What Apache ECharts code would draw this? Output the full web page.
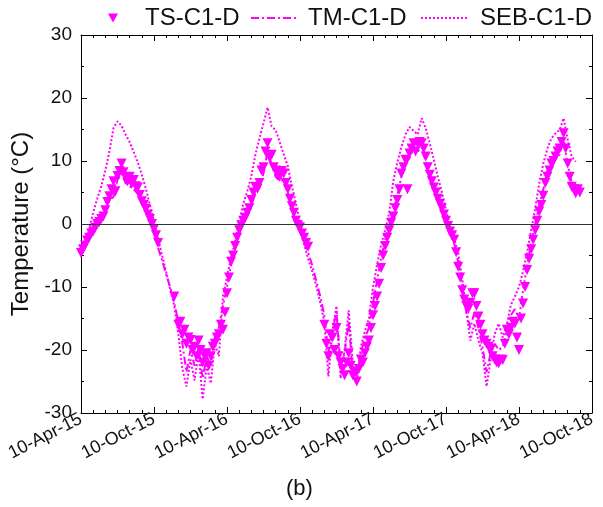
<!DOCTYPE html>
<html>
<head>
<meta charset="utf-8">
<script src="https://cdn.jsdelivr.net/npm/echarts@6/dist/echarts.min.js"></script>
<style>
  html, body { margin: 0; padding: 0; background: #fff; }
  #chart { width: 603px; height: 507px; }
</style>
</head>
<body>
<div id="chart"></div>
<script>
// Tick labels of the time axis, one every six months from 10-Apr-15
const dateLabels = ['10-Apr-15', '10-Oct-15', '10-Apr-16', '10-Oct-16',
                    '10-Apr-17', '10-Oct-17', '10-Apr-18', '10-Oct-18'];
const monthsPerLabel = 6;
// TS readings are listed every sixth of a month (about 5 days),
// TM and SEB every third of a month (about 10 days), all from 10-Apr-15
const tsStep = 1 / 6;
const lineStep = 1 / 3;
const yTicks = [-30, -20, -10, 0, 10, 20, 30];

// TS-C1-D (°C); null where no reading was logged
const tsC1D = [
  -4.6, -4.0, -3.4, -2.6, -2.2, -1.5, -1.2, -0.6, 0.0, 0.3,
  0.8, 1.2, 2.2, 3.5, 4.4, 5.5, 6.8, 5.2, 7.6, 8.4,
  9.6, 8.2, 7.4, 6.8, 7.5, 6.4, 7.0, 6.0, 5.8, 4.6,
  3.6, 3.0, 2.4, 1.5, 0.8, 0.0, -0.8, -1.8, -3.0, null,
  null, null, null, null, null, null, -11.5, null, -16.0, -15.5,
  -17.5, -16.8, -19.0, -18.0, -18.4, -20.0, -19.5, -21.0, -18.5, -20.0,
  -22.0, -21.0, -20.5, -22.5, -21.0, -19.5, -19.0, -18.0, -17.5, -16.0,
  -16.8, -14.0, -11.0, -8.5, -6.0, -5.0, -3.5, -2.2, -1.0, -0.2,
  0.5, 1.0, 1.8, 2.5, 3.8, 5.0, 5.9, 5.6, 6.5, 8.5,
  9.0, 11.5, 12.8, 10.5, 11.0, 9.0, 8.5, 8.0, 7.5, 8.4,
  8.0, 6.5, 5.5, 4.0, 2.8, 1.8, 0.5, -0.2, -0.5, -1.5,
  -2.2, -3.0, -3.6, null, null, null, null, null, null, null,
  -16.0, -19.0, -21.0, -17.5, -18.0, -20.0, -16.5, -21.0, -22.0, -23.0,
  -24.0, -22.0, -20.5, -22.5, -24.0, -23.5, -25.0, -23.0, -21.5, -22.0,
  -20.5, -19.5, -18.5, -16.5, -14.5, -13.0, -11.5, -9.5, -7.0, -5.0,
  -3.5, -2.2, -1.0, 0.2, 1.2, 2.5, 3.8, 5.5, 8.0, 9.0,
  10.2, 5.5, 11.2, 12.0, 12.8, 11.5, 12.8, 13.0, 12.8, 12.0,
  10.7, 9.0, 7.8, 6.8, 5.8, 5.0, 4.0, 3.2, 2.5, 1.5,
  0.5, -0.3, -1.2, -1.8, -2.5, -4.5, -6.8, -8.5, -10.5, -12.0,
  -13.0, -13.5, -12.5, -11.0, -11.0, -13.0, -14.7, -16.0, -17.5, -18.5,
  -19.0, -19.5, -20.0, -21.0, -21.5, -22.0, -22.1, -21.5, -21.6, -19.0,
  -16.8, -17.5, -16.5, -15.5, -15.8, -18.0, -20.0, -15.0, -12.6, -10.0,
  -7.3, -5.5, -4.0, -2.5, -1.0, 0.5, 2.0, 3.0, 4.5, 6.5,
  7.5, 8.5, 9.6, 10.0, 10.7, 11.5, 12.0, 13.0, 14.4, 12.0,
  9.6, 7.5, 5.9, 5.5, 4.9, 5.5, 5.0
];

// TM-C1-D (°C)
const tmC1D = [
  -4.8, -3.5, -2.4, -1.2, -0.3, 0.8, 2.0, 3.8, 4.3, 7.0,
  8.0, 6.5, 6.0, 5.5, 4.8, 3.2, 2.0, 0.5, -1.5, -3.8,
  -5.8, -8.0, -10.0, -12.5, -15.5, -19.0, -23.5, -20.0, -22.5, -19.5,
  -24.5, -21.0, -22.5, -18.0, -16.5, -13.0, -10.0, -6.5, -4.0, -1.5,
  0.0, 1.5, 3.0, 4.8, 5.8, 8.0, 11.5, 9.5, 7.5, 6.8,
  7.0, 5.0, 2.2, 0.0, -1.2, -3.0, -4.5, -6.5, -9.0, -11.5,
  -14.5, -20.5, -17.0, -14.0, -22.5, -20.5, -15.5, -23.5, -24.0, -20.5,
  -18.0, -16.5, -12.5, -9.0, -5.5, -2.5, -0.2, 2.0, 4.5, 7.5,
  9.5, 10.5, 12.0, 11.5, 12.2, 10.0, 7.2, 5.2, 3.5, 2.0,
  0.0, -1.8, -3.0, -6.0, -10.0, -14.0, -16.5, -14.0, -16.5, -19.5,
  -23.5, -20.5, -19.0, -20.0, -19.5, -17.0, -14.5, -13.5, -15.0, -10.5,
  -6.5, -3.0, 0.0, 3.0, 5.5, 8.5, 9.8, 10.5, 11.0, 13.5,
  9.5, 6.5, 5.5
];

// SEB-C1-D (°C)
const sebC1D = [
  -4.6, -3.2, -0.8, 1.8, 4.0, 6.0, 8.5, 11.5, 15.2, 16.3,
  15.6, 14.2, 13.0, 11.4, 9.8, 7.8, 5.6, 3.0, 0.4, -2.3,
  -5.0, -7.6, -10.4, -13.0, -17.5, -23.0, -25.8, -21.5, -24.8, -20.5,
  -27.8, -22.5, -25.3, -19.0, -21.0, -11.5, -8.4, -5.4, -2.8, 0.3,
  3.2, 5.2, 7.6, 11.0, 13.6, 16.0, 18.5, 15.5, 14.9, 13.0,
  11.0, 9.2, 6.0, 3.2, 0.4, -3.2, -5.5, -7.5, -9.8, -12.5,
  -15.5, -24.2, -17.0, -13.0, -24.5, -20.0, -13.7, -22.0, -25.3, -19.5,
  -17.0, -15.0, -10.0, -6.5, -3.3, -1.0, 1.8, 6.8, 9.8, 12.2,
  14.2, 15.4, 14.8, 14.2, 16.8, 15.2, 12.8, 10.2, 7.5, 5.0,
  2.2, -0.4, -2.4, -4.5, -8.6, -13.7, -18.5, -15.8, -18.5, -20.5,
  -25.8, -21.5, -17.5, -15.8, -18.0, -16.0, -12.8, -11.5, -10.0, -7.5,
  -4.5, -1.0, 2.5, 6.5, 9.6, 12.0, 13.6, 14.4, 14.9, 16.8,
  13.4, 10.7, 9.9
];

// Pair each reading with its time position (months after 10-Apr-15)
function toPoints(values, step) {
  return values
    .map((v, i) => [i * step, v])
    .filter(p => p[1] !== null);
}

const magenta = '#ff00ff';
const fontFamily = '"Liberation Sans", Arial, sans-serif';
const xMax = (dateLabels.length - 1) * monthsPerLabel;

const chart = echarts.init(document.getElementById('chart'), null, { renderer: 'canvas' });

const axisLineStyle = { show: true, onZero: false, lineStyle: { color: '#000', width: 1 } };
const xAxisBase = {
  type: 'value',
  min: 0,
  max: xMax,
  interval: monthsPerLabel,
  splitLine: { show: false },
  axisLine: axisLineStyle,
  axisTick: { show: true, inside: true, length: 6, lineStyle: { color: '#000' } },
  minorTick: { show: true, splitNumber: 6, length: 3, lineStyle: { color: '#000' } }
};
const yAxisBase = {
  type: 'value',
  min: yTicks[0],
  max: yTicks[yTicks.length - 1],
  interval: yTicks[1] - yTicks[0],
  splitLine: { show: false },
  axisLine: axisLineStyle,
  axisTick: { show: true, inside: true, length: 6, lineStyle: { color: '#000' } },
  minorTick: { show: true, splitNumber: 2, length: 3, lineStyle: { color: '#000' } }
};

const legendText = { fontFamily: fontFamily, fontSize: 24, color: '#111' };

chart.setOption({
  animation: false,
  backgroundColor: '#fff',
  textStyle: { fontFamily: fontFamily },
  grid: { left: 81, right: 11, top: 35, bottom: 94, containLabel: false },
  legend: [
    {
      left: 103, top: 1, itemWidth: 10, itemHeight: 9,
      textStyle: Object.assign({ padding: [0, 0, 0, 22] }, legendText),
      data: [{ name: 'TS-C1-D', icon: 'path://M0,0L10,0L5,9Z' }]
    },
    {
      left: 245, top: 1, itemWidth: 48, itemHeight: 11,
      textStyle: Object.assign({ padding: [0, 0, 0, 4] }, legendText),
      data: [{ name: 'TM-C1-D', itemStyle: { opacity: 0 } }]
    },
    {
      left: 415, top: 1, itemWidth: 48, itemHeight: 11,
      textStyle: Object.assign({ padding: [0, 0, 0, 6] }, legendText),
      data: [{ name: 'SEB-C1-D', itemStyle: { opacity: 0 } }]
    }
  ],
  xAxis: [
    Object.assign({}, xAxisBase, {
      position: 'bottom',
      axisLabel: {
        show: true,
        rotate: 27,
        margin: 5,
        fontSize: 18,
        color: '#111',
        fontFamily: fontFamily,
        showMinLabel: true,
        showMaxLabel: true,
        formatter: v => dateLabels[Math.round(v / monthsPerLabel)] || ''
      }
    }),
    Object.assign({}, xAxisBase, { position: 'top', axisLabel: { show: false } })
  ],
  yAxis: [
    Object.assign({}, yAxisBase, {
      position: 'left',
      name: 'Temperature (°C)',
      nameLocation: 'middle',
      nameGap: 48,
      nameTextStyle: { fontSize: 24, color: '#111', fontFamily: fontFamily },
      axisLabel: { show: true, margin: 9, fontSize: 19, color: '#111', fontFamily: fontFamily }
    }),
    Object.assign({}, yAxisBase, { position: 'right', axisLabel: { show: false } })
  ],
  graphic: [{
    type: 'text',
    left: 286,
    top: 478,
    style: { text: '(b)', font: '22px "Liberation Sans", Arial, sans-serif', fill: '#111' }
  }],
  series: [
    {
      name: 'SEB-C1-D',
      type: 'line',
      data: toPoints(sebC1D, lineStep),
      symbol: 'none',
      lineStyle: { color: magenta, width: 2, type: [2, 2] },
      itemStyle: { color: magenta },
      z: 2,
      markLine: {
        silent: true,
        symbol: 'none',
        label: { show: false },
        lineStyle: { color: '#333', width: 1, type: 'solid' },
        data: [{ yAxis: 0 }]
      }
    },
    {
      name: 'TM-C1-D',
      type: 'line',
      data: toPoints(tmC1D, lineStep),
      symbol: 'none',
      lineStyle: { color: magenta, width: 2, type: [8, 3, 2, 3] },
      itemStyle: { color: magenta },
      z: 3
    },
    {
      name: 'TS-C1-D',
      type: 'scatter',
      data: toPoints(tsC1D, tsStep),
      symbol: 'triangle',
      symbolRotate: 180,
      symbolSize: 10,
      itemStyle: { color: magenta, opacity: 1 },
      z: 4
    }
  ]
});
</script>
</body>
</html>
